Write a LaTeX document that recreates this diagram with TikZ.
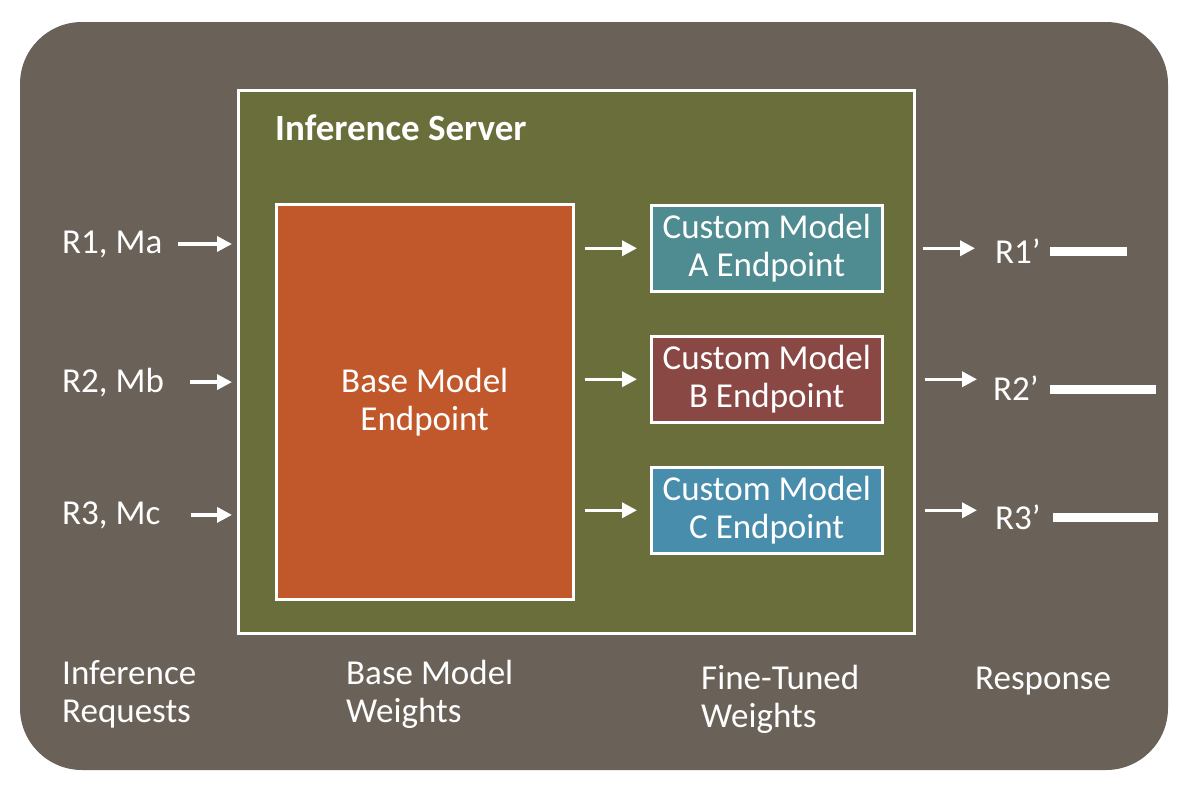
\documentclass[tikz,border=0pt]{standalone}
\usepackage{fontspec}
\setmainfont{Carlito}
\usepackage{xcolor}
\usetikzlibrary{positioning,arrows.meta}
\definecolor{sfondo}{HTML}{6A6259}
\definecolor{verdeserver}{HTML}{6A6E3A}
\definecolor{arancio}{HTML}{C0582C}
\definecolor{tealA}{HTML}{4E8C91}
\definecolor{rossoB}{HTML}{8A4844}
\definecolor{bluC}{HTML}{488DAC}
\begin{document}
\begin{tikzpicture}[
			x=1pt, y=-1pt,
			every node/.style={
					text=white, inner sep=0pt,
					font=\fontsize{35}{38}\selectfont
				},
			scatola/.style={
					draw=white, line width=2.5pt,
					align=center, anchor=north west
				},
			etichetta/.style={anchor=base west, align=left},
			freccia/.style={
					draw=white, line width=3.5pt,
					-{Triangle[length=15pt,width=15pt]}
				}
		]
		\fill[white] (0,0) rectangle (1192,785);
		\useasboundingbox (0,0) rectangle (1192,785);
		\fill[sfondo, rounded corners=62pt] (20,22) rectangle (1168,770);

		% server e modelli
		\node[scatola, fill=verdeserver, minimum width=676pt, minimum height=543pt] (server) at (237,89) {};
		\node[etichetta, font=\fontsize{37}{38}\selectfont\bfseries] (titolo) at (275,140) {Inference Server};
		\node[scatola, fill=arancio, minimum width=297pt, minimum height=395pt] (base) at (275,203) {Base Model\\Endpoint};
		\node[scatola, fill=tealA, minimum width=231pt, minimum height=86pt] (cma) at (650,204) {Custom Model\\A Endpoint};
		\node[scatola, fill=rossoB, minimum width=231pt, minimum height=86pt] (cmb) at (650,335) {Custom Model\\B Endpoint};
		\node[scatola, fill=bluC, minimum width=231pt, minimum height=86pt] (cmc) at (650,466) {Custom Model\\C Endpoint};

		% richieste e risposte
		\node[etichetta] (r1) at (62,253) {R1, Ma};
		\node[etichetta] (r2) at (62,392) {R2, Mb};
		\node[etichetta] (r3) at (62,524) {R3, Mc};
		\node[etichetta] (r1p) at (995,263) {R1’};
		\node[etichetta] (r2p) at (993,400) {R2’};
		\node[etichetta] (r3p) at (995,529) {R3’};

		\draw[freccia, shorten <=16pt, shorten >=5pt] (r1.east) -- (r1.east -| server.west);
		\draw[freccia, shorten <=26pt, shorten >=5pt] (r2.east) -- (r2.east -| server.west);
		\draw[freccia, shorten <=30pt, shorten >=5pt] (r3.east) -- (r3.east -| server.west);
		\foreach \m in {cma,cmb,cmc}
		\draw[freccia, shorten <=10pt, shorten >=13pt] (base.east |- \m.west) -- (\m.west);
		\draw[freccia, shorten <=39pt, shorten >=20pt] (cma.east) -- (r1p.west |- cma.east);
		\draw[freccia, shorten <=41pt, shorten >=16pt] (cmb.east) -- (r2p.west |- cmb.east);
		\draw[freccia, shorten <=41pt, shorten >=18pt] (cmc.east) -- (r3p.west |- cmc.east);

		\fill[white] (1050,247) rectangle (1127,256);
		\fill[white] (1050,385) rectangle (1156,394);
		\fill[white] (1053,513) rectangle (1158,522);

		% didascalie
		\node[etichetta] (richieste) at (62,722) {Inference\\Requests};
		\node[etichetta] (pesibase) at (346,722) {Base Model\\Weights};
		\node[etichetta] (pesifini) at (701,727) {Fine-Tuned\\Weights};
		\node[etichetta] (risposta) at (975,689) {Response};
	\end{tikzpicture}
\end{document}
